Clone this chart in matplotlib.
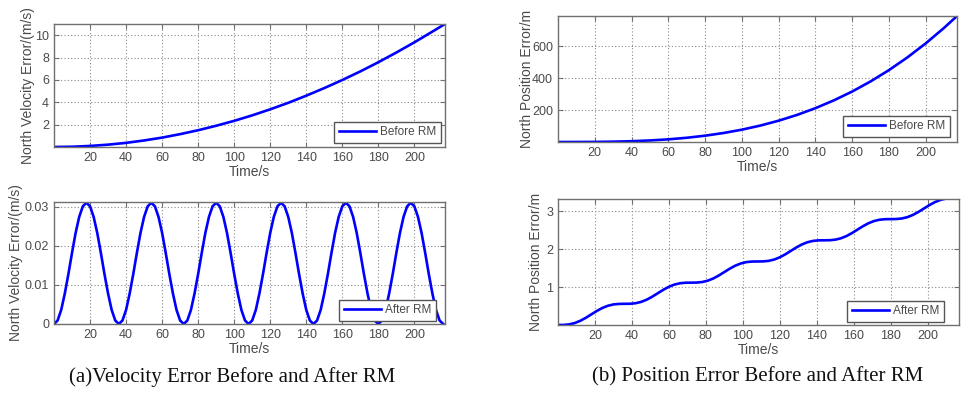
import matplotlib
matplotlib.use("Agg")
import matplotlib.pyplot as plt
import numpy as np

# ---------------- data ----------------
t_before = [0, 10, 20, 30, 40, 50, 60, 70, 80, 90, 100, 110, 120, 130, 140,
            150, 160, 170, 180, 190, 200, 210, 217]
vel_before = [0, 0.023, 0.094, 0.21, 0.37, 0.585, 0.84, 1.15, 1.5, 1.9, 2.34,
              2.83, 3.37, 3.95, 4.59, 5.27, 5.99, 6.76, 7.58, 8.45, 9.36,
              10.32, 11.0]
pos_before = [0, 0.08, 0.62, 2.1, 4.9, 9.7, 16.7, 26.5, 39.6, 56.4, 77.3,
              102.9, 133.6, 169.8, 212.1, 260.9, 316.6, 379.8, 450.8, 530.2,
              618.4, 715.9, 790.0]

t_vel_after = list(range(0, 217, 2))
vel_after = [
    0, 0.0009, 0.0036, 0.0078, 0.0128, 0.0182, 0.0233, 0.0274, 0.0301, 0.0310,
    0.0301, 0.0274, 0.0233, 0.0182, 0.0128, 0.0078, 0.0036, 0.0009,
    0, 0.0009, 0.0036, 0.0078, 0.0128, 0.0182, 0.0233, 0.0274, 0.0301, 0.0310,
    0.0301, 0.0274, 0.0233, 0.0182, 0.0128, 0.0078, 0.0036, 0.0009,
    0, 0.0009, 0.0036, 0.0078, 0.0128, 0.0182, 0.0233, 0.0274, 0.0301, 0.0310,
    0.0301, 0.0274, 0.0233, 0.0182, 0.0128, 0.0078, 0.0036, 0.0009,
    0, 0.0009, 0.0036, 0.0078, 0.0128, 0.0182, 0.0233, 0.0274, 0.0301, 0.0310,
    0.0301, 0.0274, 0.0233, 0.0182, 0.0128, 0.0078, 0.0036, 0.0009,
    0, 0.0009, 0.0036, 0.0078, 0.0128, 0.0182, 0.0233, 0.0274, 0.0301, 0.0310,
    0.0301, 0.0274, 0.0233, 0.0182, 0.0128, 0.0078, 0.0036, 0.0009,
    0, 0.0009, 0.0036, 0.0078, 0.0128, 0.0182, 0.0233, 0.0274, 0.0301, 0.0310,
    0.0301, 0.0274, 0.0233, 0.0182, 0.0128, 0.0078, 0.0036, 0.0009,
    0]

t_pos_after = list(range(0, 217, 3))
pos_after = [
    0.000, 0.002, 0.016, 0.051, 0.109, 0.188, 0.279, 0.370, 0.449, 0.507, 0.542, 0.556,
    0.558, 0.560, 0.574, 0.609, 0.667, 0.746, 0.837, 0.928, 1.007, 1.065, 1.100, 1.114,
    1.116, 1.118, 1.132, 1.167, 1.225, 1.304, 1.395, 1.486, 1.565, 1.623, 1.658, 1.672,
    1.674, 1.676, 1.690, 1.725, 1.783, 1.862, 1.953, 2.044, 2.123, 2.181, 2.216, 2.230,
    2.232, 2.234, 2.248, 2.283, 2.341, 2.420, 2.511, 2.602, 2.681, 2.739, 2.774, 2.788,
    2.790, 2.792, 2.806, 2.841, 2.899, 2.978, 3.069, 3.160, 3.239, 3.297, 3.332, 3.346,
    3.348]

x_ticks = [20, 40, 60, 80, 100, 120, 140, 160, 180, 200]
yticks_vb = [2, 4, 6, 8, 10]
yticks_va = [0, 0.01, 0.02, 0.03]
ytick_labels_va = ["0", "0.01", "0.02", "0.03"]
yticks_pb = [200, 400, 600]
yticks_pa = [1, 2, 3]

xlabel = "Time/s"
ylabel_v = "North Velocity Error/(m/s)"
ylabel_p = "North Position Error/m"
leg_before = "Before RM"
leg_after = "After RM"
caption_a = "(a)Velocity Error Before and After RM"
caption_b = "(b) Position Error Before and After RM"

# ---------------- style ----------------
plt.rcParams['font.family'] = ['Liberation Sans', 'DejaVu Sans']
W, H = 963, 393
fig = plt.figure(figsize=(W / 100, H / 100), dpi=100)

TXT = '#4a4a4a'
FRAME = '#707070'


def px_axes(l, r, t, b):
    return fig.add_axes([l / W, (H - b) / H, (r - l) / W, (b - t) / H])


def style(ax, xlim, ylim, yticks, ylab, ylab_x, leg_text, leg_off, ytl=None):
    ax.set_xlim(*xlim)
    ax.set_ylim(*ylim)
    ax.set_xticks(x_ticks)
    ax.set_yticks(yticks)
    if ytl is not None:
        ax.set_yticklabels(ytl)
    ax.tick_params(direction='in', length=3.5, width=0.8, color=FRAME,
                   top=True, right=True, labelsize=9, labelcolor=TXT, pad=3.5)
    for s in ax.spines.values():
        s.set_color(FRAME)
        s.set_linewidth(1.0)
    ax.grid(True, linestyle=(0, (1, 2)), color='#8a8a8a', linewidth=0.8)
    ax.set_xlabel(xlabel, fontsize=10, color=TXT, labelpad=1)
    ax.set_ylabel(ylab, fontsize=10, color=TXT)
    bb = ax.get_position()
    ax.yaxis.set_label_coords((ylab_x / W - bb.x0) / bb.width, 0.5)
    # legend
    dx, dy = leg_off
    wpx = bb.width * W
    hpx = bb.height * H
    leg = ax.legend([leg_text], loc='lower right',
                    bbox_to_anchor=(1 - dx / wpx, dy / hpx),
                    borderaxespad=0, fancybox=False, fontsize=8.5,
                    handlelength=3.2, handletextpad=0.3, borderpad=0.4,
                    framealpha=1)
    leg.get_frame().set_edgecolor('#555555')
    leg.get_frame().set_linewidth(1.0)
    for tx in leg.get_texts():
        tx.set_color(TXT)


BLUE = '#0000ff'
LW = 1.9

ax1 = px_axes(54, 445, 24, 147)
ax1.plot(t_before, vel_before, color=BLUE, lw=LW)
style(ax1, (0, 217), (0, 11), yticks_vb, ylabel_v, 35, leg_before, (4, 4))

ax2 = px_axes(54, 445, 202, 324)
ax2.plot(t_vel_after, vel_after, color=BLUE, lw=LW)
style(ax2, (0, 217), (0, 0.0312), yticks_va, ylabel_v, 23, leg_after, (9, 3),
      ytl=ytick_labels_va)

ax3 = px_axes(558, 957, 16, 142)
ax3.plot(t_before, pos_before, color=BLUE, lw=LW)
style(ax3, (0, 217), (0, 790), yticks_pb, ylabel_p, 534, leg_before, (7, 5))

ax4 = px_axes(558, 959, 199, 325)
ax4.plot(t_pos_after, pos_after, color=BLUE, lw=LW)
style(ax4, (0, 217), (0, 3.32), yticks_pa, ylabel_p, 543, leg_after, (15, 3))

fig.text(232 / W, 1 - 377 / H, caption_a, ha='center', va='center',
         fontsize=15, family=['Liberation Serif', 'DejaVu Serif'], color='#111111')
fig.text(758 / W, 1 - 377 / H, caption_b, ha='center', va='center',
         fontsize=15, family=['Liberation Serif', 'DejaVu Serif'], color='#111111')

fig.savefig('out.png', dpi=100)
